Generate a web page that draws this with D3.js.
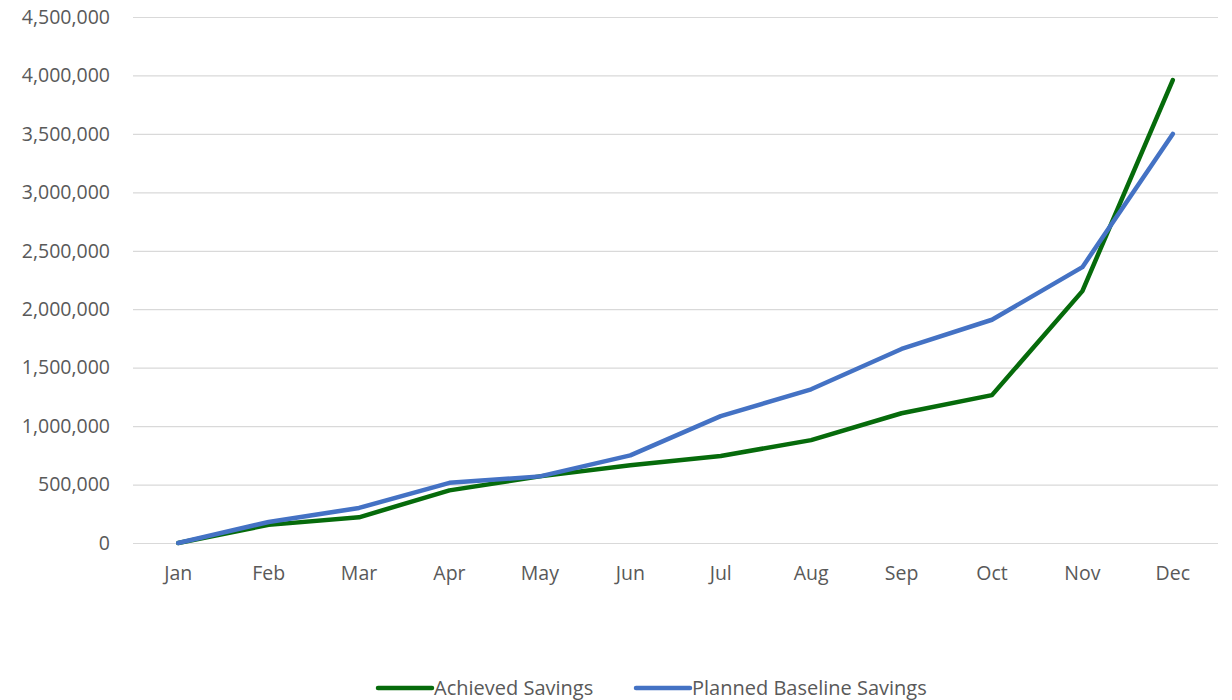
<!DOCTYPE html>
<html>
<head>
<meta charset="utf-8">
<script src="https://cdnjs.cloudflare.com/ajax/libs/d3/7.8.5/d3.min.js"></script>
<style>
  body { margin: 0; background: #fff; }
  svg text { font-family: "Open Sans", sans-serif; fill: #595959; }
</style>
</head>
<body>
<div id="chart"></div>
<script>
var months = ["Jan", "Feb", "Mar", "Apr", "May", "Jun", "Jul", "Aug", "Sep", "Oct", "Nov", "Dec"];
var achieved = [0, 155000, 220000, 450000, 570000, 665000, 745000, 880000, 1110000, 1265000, 2155000, 3960000];
var planned = [0, 180000, 300000, 515000, 570000, 750000, 1085000, 1315000, 1660000, 1910000, 2360000, 3500000];
var yTicks = [0, 500000, 1000000, 1500000, 2000000, 2500000, 3000000, 3500000, 4000000, 4500000];
var seriesNames = ["Achieved Savings", "Planned Baseline Savings"];
var seriesColors = ["#066b0b", "#4472c4"];

var w = 1232, h = 700;
var plotLeft = 133, plotRight = 1218, plotTop = 17, plotBottom = 543;

var svg = d3.select('#chart').append('svg')
    .attr('width', w)
    .attr('height', h);

var xscale = d3.scaleBand()
    .domain(months)
    .range([plotLeft, plotRight]);

var yscale = d3.scaleLinear()
    .domain([0, 4500000])
    .range([plotBottom, plotTop]);

// gridlines
svg.append('g')
    .selectAll('line')
    .data(yTicks)
    .enter()
    .append('line')
        .attr('x1', plotLeft)
        .attr('x2', plotRight)
        .attr('y1', d => yscale(d) + 0.5)
        .attr('y2', d => yscale(d) + 0.5)
        .attr('stroke', '#d9d9d9')
        .attr('stroke-width', 1.2);

var yaxis = d3.axisLeft(yscale)
    .tickValues(yTicks)
    .tickSize(0)
    .tickPadding(23)
    .tickFormat(d3.format(','));
svg.append('g')
    .attr('class', 'axis y')
    .attr('transform', 'translate(' + plotLeft + ',0)')
    .call(yaxis)
    .call(g => g.select('.domain').remove())
    .selectAll('text')
        .style('font-size', '19.5px');

var xaxis = d3.axisBottom(xscale).tickSize(0).tickPadding(23);
svg.append('g')
    .attr('class', 'axis x')
    .attr('transform', 'translate(0,' + plotBottom + ')')
    .call(xaxis)
    .call(g => g.select('.domain').remove())
    .selectAll('text')
        .style('font-size', '19.5px');

var line = d3.line()
    .x((d, i) => xscale(months[i]) + xscale.bandwidth() / 2)
    .y(d => yscale(d));

[achieved, planned].forEach(function(vals, i) {
    svg.append('path')
        .datum(vals)
        .attr('fill', 'none')
        .attr('stroke', seriesColors[i])
        .attr('stroke-width', 4.5)
        .attr('stroke-linejoin', 'round')
        .attr('stroke-linecap', 'round')
        .attr('d', line);
});

// legend
var legendX = [378, 636];
var legend = svg.append('g');
seriesNames.forEach(function(name, i) {
    legend.append('line')
        .attr('x1', legendX[i])
        .attr('x2', legendX[i] + 54)
        .attr('y1', 688)
        .attr('y2', 688)
        .attr('stroke', seriesColors[i])
        .attr('stroke-width', 4.5)
        .attr('stroke-linecap', 'round');
    legend.append('text')
        .attr('x', legendX[i] + 56)
        .attr('y', 688)
        .attr('dy', '0.35em')
        .style('font-size', '20px')
        .text(name);
});
</script>
</body>
</html>
